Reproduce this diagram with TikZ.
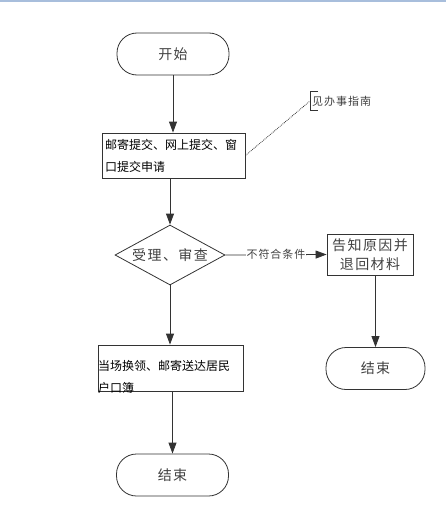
\documentclass[tikz,border=0pt]{standalone}
\usepackage{fontspec}
\setmainfont{Noto Sans CJK SC}
\newfontfamily\cjkwide[LetterSpace=10]{Noto Sans CJK SC}
\newfontfamily\cjknote[LetterSpace=9]{Noto Sans CJK SC}
\usetikzlibrary{shapes.geometric,arrows.meta}
\definecolor{topblue}{RGB}{168,190,220}
\begin{document}
\begin{tikzpicture}[x=1pt,y=-1pt,
  line/.style={draw=black!80,line width=0.8pt},
  arrow/.style={line,-{Triangle[length=11pt,width=8pt]}},
  termnode/.style={line,rectangle,rounded corners=20pt,minimum width=112pt,minimum height=42pt,
    inner sep=0pt,text=black!75,font=\cjkwide\fontsize{14}{15}\selectfont},
  boxnode/.style={line,rectangle,inner xsep=3pt,inner ysep=0pt,font=\fontsize{12}{22}\selectfont},
  widebox/.style={line,rectangle,align=center,inner sep=0pt,text=black!75,
    font=\cjkwide\fontsize{14}{19}\selectfont},
  decnode/.style={line,diamond,aspect=1.83,minimum width=110pt,minimum height=60pt,inner sep=0pt,
    text=black!75,font=\cjkwide\fontsize{14}{15}\selectfont},
  notenode/.style={inner sep=0pt,minimum height=19pt,text=black!75,font=\cjknote\fontsize{11}{13}\selectfont}]
\useasboundingbox (0,0) rectangle (446,511);
\draw[topblue,line width=2pt] (0,1) -- (446,1);
% main column
\node[termnode] (start) at (173,54) {开始};
\node[boxnode,text width=137pt,minimum height=45pt,align=left] (apply) at (173.5,155.5)
  {邮寄提交、网上提交、窗\\口提交申请};
\node[decnode] (check) at (170,255) {受理、审查};
\node[boxnode,minimum width=145pt,minimum height=46pt] (issue) at (170.5,368) {};
\node[inner sep=0pt,anchor=west,align=left,font=\fontsize{12}{22}\selectfont] (issuetext) at (98,377)
  {当场换领、邮寄送达居民\\户口簿};
\node[termnode] (end1) at (172.5,475) {结束};
% right column
\node[widebox,minimum width=86pt,minimum height=41pt] (notify) at (370,254.5) {告知原因并\\退回材料};
\node[termnode,minimum width=99pt] (end2) at (375.5,368.5) {结束};
% note
\node[notenode,anchor=west] (guide) at (312,101) {见办事指南};
\draw[line] ([xshift=6pt]guide.north west) -- ([xshift=-2pt]guide.north west)
  -- ([xshift=-2pt]guide.south west) -- ([xshift=6pt]guide.south west);
\draw[line,densely dotted] (apply.east) -- ([xshift=-2pt]guide.west);
% connectors
\draw[arrow] (start) -- (start |- apply.north);
\draw[arrow] (apply.south -| check.north) -- (check.north);
\draw[arrow] (check.south) -- (check.south |- issue.north);
\draw[arrow] (issue.south -| end1.north) -- (end1.north);
\draw[arrow] (check.east) -- node[fill=white,inner xsep=1pt,inner ysep=0pt,text=black!75,
  font=\cjknote\fontsize{11}{13}\selectfont] {不符合条件} (notify.west);
\draw[arrow] (notify.south -| end2.north) -- (end2.north);
\end{tikzpicture}
\end{document}
